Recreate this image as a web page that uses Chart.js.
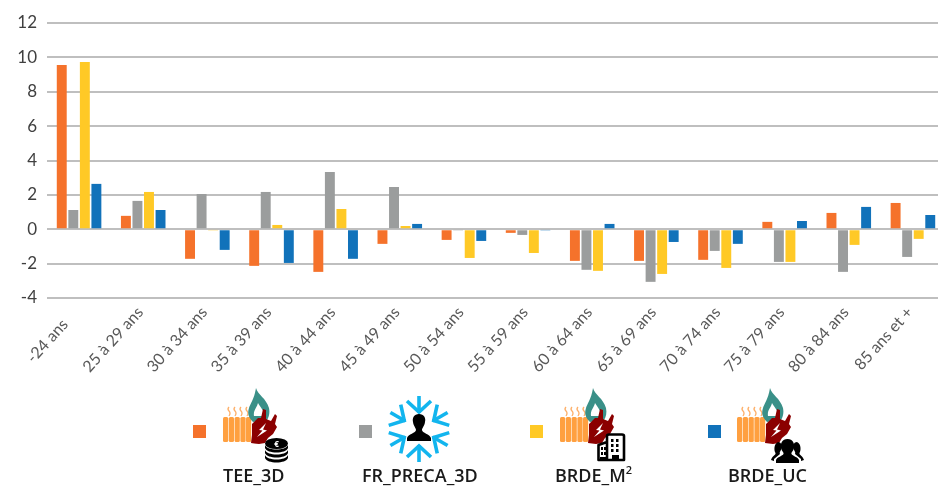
<!DOCTYPE html>
<html>
<head>
<meta charset="utf-8">
<script src="https://cdn.jsdelivr.net/npm/chart.js@4"></script>
<style>
    html, body { margin: 0; padding: 0; background: #fff; overflow: hidden; }
    #wrap { position: relative; width: 938px; height: 486px; overflow: hidden; }
    #myChart { position: absolute; left: 0; top: 0; }
    .swatch { position: absolute; width: 13px; height: 13px; top: 425px; }
    .icon { position: absolute; left: 0; top: 0; }
    .name { position: absolute; top: 463px; font: 600 18px "Open Sans", sans-serif; color: #1a1a1a; white-space: nowrap; }
    .name sup { font-size: 11px; line-height: 0; position: relative; top: -1px; vertical-align: super; }
</style>
</head>
<body>
<div id="wrap">
    <canvas id="myChart" width="946" height="486"></canvas>

    <svg class="icon" width="938" height="486" viewBox="0 0 938 486">
        <defs>
            <g id="heat">
                <!-- steam -->
                <g fill="none" stroke="#fdb06a" stroke-width="1.3">
                    <path d="M6 19 q-2 2 0 4 q2 2 0 5"/>
                    <path d="M12 19 q-2 2 0 4 q2 2 0 5"/>
                    <path d="M18 19 q-2 2 0 4 q2 2 0 5"/>
                    <path d="M24 19 q-2 2 0 4 q2 2 0 5"/>
                </g>
                <!-- radiator -->
                <g fill="#ffa040">
                    <rect x="0" y="29" width="5.2" height="25" rx="1.5"/>
                    <rect x="5.8" y="29" width="5.2" height="25" rx="1.5"/>
                    <rect x="11.6" y="29" width="5.2" height="25" rx="1.5"/>
                    <rect x="17.4" y="29" width="5.2" height="25" rx="1.5"/>
                    <rect x="23" y="29" width="5.2" height="25" rx="1.5"/>
                </g>
                <!-- flame -->
                <path fill="#3a9088" fill-rule="evenodd" d="M33 0 C35 7 43 10 46 20 C47 25 46 29 44 32 L30 34 C26 30 24 26 26 20 C27 16 31 12 33 0 Z M35 15 C34 20 30 22 31 28 L41 28 C42 24 38 20 35 15 Z"/>
                <!-- plug -->
                <path fill="#8b0000" d="M40 21 L43 22 L43 31 L48 33 L52 26 L54 28 L52 36 L54 39 L50 46 L45 50 L42 55 L36 56 L28 55 L29 47 L29 36 L35 30 L38 30 Z"/>
                <path fill="#fff" d="M43 35 L36 42 L39.5 42.5 L34 49 L44 42.5 L40 41.5 Z"/>
            </g>
            <g id="coins" fill="#000">
                <ellipse cx="11.5" cy="5.5" rx="11.5" ry="5.5"/>
                <path d="M0 7 C2 13 21 13 23 7 V10 C21 16 2 16 0 10 Z"/>
                <path d="M0 12 C2 18 21 18 23 12 V15 C21 21 2 21 0 15 Z"/>
                <path d="M0 17 C2 23 21 23 23 17 V20 C21 26 2 26 0 20 Z"/>
                <text x="11.5" y="8.5" font-family="Open Sans" font-size="8" font-weight="700" fill="#fff" text-anchor="middle">€</text>
            </g>
            <g id="arm" fill="none" stroke="#12b5ee" stroke-width="3.6">
                <path d="M0 -16 V-33"/>
                <path d="M-12 -28 L0 -17 L12 -28"/>
            </g>
        </defs>

        <use href="#heat" x="223" y="388"/>
        <use href="#coins" x="265" y="438"/>

        <!-- snowflake with person -->
        <g transform="translate(419 429)">
            <use href="#arm"/>
            <use href="#arm" transform="rotate(60)"/>
            <use href="#arm" transform="rotate(120)"/>
            <use href="#arm" transform="rotate(180)"/>
            <use href="#arm" transform="rotate(240)"/>
            <use href="#arm" transform="rotate(300)"/>
            <path fill="#000" d="M0 -15 C5 -15 7 -11 6 -7 C5.5 -3 3 -1 3 1 C3 4 11 5 12 9 L12 12 L-12 12 L-12 9 C-11 5 -3 4 -3 1 C-3 -1 -5.5 -3 -6 -7 C-7 -11 -5 -15 0 -15 Z"/>
        </g>

        <use href="#heat" x="560" y="388"/>
        <!-- buildings -->
        <g transform="translate(597 433)">
            <path fill="none" stroke="#000" stroke-width="2.6" stroke-linejoin="round" d="M1.5 27 V12 L10 9 V27 Z M10 27 V3 Q10 1.5 12 1.5 L25 1.5 Q27 1.5 27 3 V27 Z"/>
            <path fill="#000" d="M4 14 h2 v3 h-2 z M7 14 h2 v3 h-2 z M4 19 h2 v3 h-2 z M7 19 h2 v3 h-2 z M14 6 h2.5 v3 h-2.5 z M19 6 h2.5 v3 h-2.5 z M14 11 h2.5 v3 h-2.5 z M19 11 h2.5 v3 h-2.5 z M14 16 h2.5 v3 h-2.5 z M19 16 h2.5 v3 h-2.5 z M15 22 h7 v6 h-7 z M3 24 h6 v4 h-6 z"/>
        </g>

        <use href="#heat" x="737" y="388"/>
        <!-- people -->
        <g transform="translate(771 439)" fill="#000">
            <path d="M7 3 C10 3 11 6 10.5 9 C10 12 8 13 9 15 L3 20 L3 22 L0 21 C1 17 5 16 4.5 14 C3 12 2.5 5 7 3 Z"/>
            <path d="M26 3 C23 3 22 6 22.5 9 C23 12 25 13 24 15 L30 20 L30 22 L33 21 C32 17 28 16 28.5 14 C30 12 30.5 5 26 3 Z"/>
            <path d="M16.5 0 C22 0 24 5 23 9 C22.5 12 20 13 20.5 15 C21.5 17 27 18 28 21 L28 24 L5 24 L5 21 C6 18 11.5 17 12.5 15 C13 13 10.5 12 10 9 C9 5 11 0 16.5 0 Z"/>
        </g>
    </svg>

    <div class="swatch" style="left:193px;background:#f5722b"></div>
    <div class="swatch" style="left:359px;background:#9b9d9d"></div>
    <div class="swatch" style="left:530px;background:#ffc926"></div>
    <div class="swatch" style="left:708px;background:#1172ba"></div>

    <div class="name" style="left:223px">TEE_3D</div>
    <div class="name" style="left:362px">FR_PRECA_3D</div>
    <div class="name" style="left:555px">BRDE_M<sup>2</sup></div>
    <div class="name" style="left:728px">BRDE_UC</div>
</div>

<script>
const categories = ['-24 ans', '25 à 29 ans', '30 à 34 ans', '35 à 39 ans', '40 à 44 ans', '45 à 49 ans', '50 à 54 ans',
    '55 à 59 ans', '60 à 64 ans', '65 à 69 ans', '70 à 74 ans', '75 à 79 ans', '80 à 84 ans', '85 ans et +'];

const tee3d = [9.55, 0.78, -1.72, -2.13, -2.48, -0.85, -0.62, -0.21, -1.84, -1.84, -1.78, 0.43, 0.95, 1.53];
const frPreca3d = [1.12, 1.65, 2.05, 2.17, 3.33, 2.46, -0.04, -0.33, -2.36, -3.06, -1.26, -1.9, -2.48, -1.61];
const brdeM2 = [9.73, 2.17, -0.04, 0.25, 1.18, 0.19, -1.67, -1.38, -2.42, -2.6, -2.25, -1.9, -0.91, -0.56];
const brdeUc = [2.64, 1.12, -1.2, -1.96, -1.72, 0.31, -0.68, -0.04, 0.31, -0.74, -0.85, 0.48, 1.3, 0.83];

const ctx = document.getElementById('myChart');

function bars(label, data, color) {
    return {
        label: label,
        data: data,
        backgroundColor: color,
        borderWidth: 0,
        categoryPercentage: 0.72,
        barPercentage: 0.86
    };
}

new Chart(ctx, {
    type: 'bar',
    data: {
        labels: categories,
        datasets: [
            bars('TEE_3D', tee3d, '#f5722b'),
            bars('FR_PRECA_3D', frPreca3d, '#9b9d9d'),
            bars('BRDE_M²', brdeM2, '#ffc926'),
            bars('BRDE_UC', brdeUc, '#1172ba')
        ]
    },
    options: {
        responsive: false,
        animation: false,
        layout: { padding: { top: 23, right: 1, bottom: 0, left: 0 } },
        plugins: { legend: { display: false }, tooltip: { enabled: false } },
        scales: {
            x: {
                afterFit: (scale) => { scale.height = 188; },
                grid: { display: false, drawTicks: false },
                border: { display: false },
                ticks: {
                    color: '#595959',
                    font: { family: 'Lato', size: 16 },
                    minRotation: 48,
                    maxRotation: 48,
                    autoSkip: false,
                    padding: 5,
                    labelOffset: -3,
                    // the first label sits lower in the original, trailing spaces push it along the slant
                    callback: (value, i) => i === 0 ? categories[i] + '    ' : categories[i]
                }
            },
            y: {
                min: -4,
                max: 12,
                afterFit: (scale) => { scale.width = 47; },
                grid: { color: '#bfbfbf', lineWidth: 2, drawTicks: false },
                border: { display: false },
                ticks: {
                    stepSize: 2,
                    color: '#404040',
                    font: { family: 'Lato', size: 17 },
                    padding: 10
                }
            }
        }
    }
});
</script>
</body>
</html>
